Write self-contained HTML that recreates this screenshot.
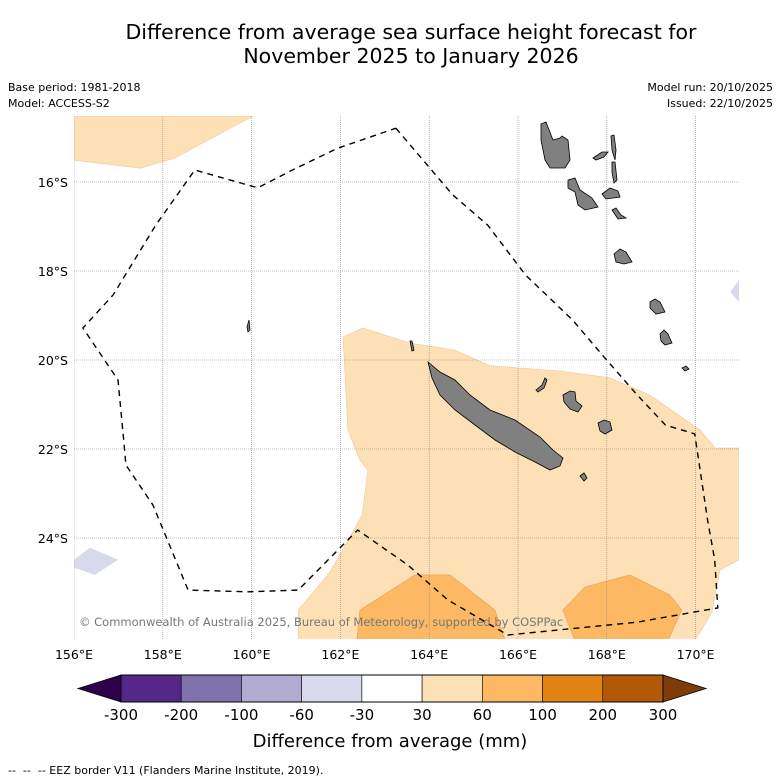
<!DOCTYPE html>
<html><head><meta charset="utf-8"><style>
html,body{margin:0;padding:0;background:#fff;}
svg{display:block;font-family:"DejaVu Sans","Liberation Sans",sans-serif;}
</style></head><body>
<svg id="chart" width="781" height="781" viewBox="0 0 781 781">
<text x="411" y="39" font-size="20.5" text-anchor="middle">Difference from average sea surface height forecast for</text>
<text x="411" y="63" font-size="20.5" text-anchor="middle">November 2025 to January 2026</text>
<text x="8" y="91" font-size="11">Base period: 1981-2018</text>
<text x="8" y="107" font-size="11">Model: ACCESS-S2</text>
<text x="773" y="91" font-size="11" text-anchor="end">Model run: 20/10/2025</text>
<text x="773" y="107" font-size="11" text-anchor="end">Issued: 22/10/2025</text>
<defs><clipPath id="mapclip"><rect x="74" y="116" width="665" height="523"/></clipPath></defs>
<g id="map" clip-path="url(#mapclip)"></g>
<g id="islands" fill="#808080" stroke="#000" stroke-width="0.8">
<polygon points="428,362 440,372 455,380 470,395 490,410 515,420 540,437 553,450 563,458 560,466 550,470 535,462 515,452 495,440 475,425 455,410 440,395 432,378"/>
<polygon points="541,124 546,122 553,140 560,138 562,136 568,140 570,160 565,168 550,168 545,160 541,140"/>
<polygon points="568,180 575,178 580,190 592,198 598,207 585,210 578,205 575,192 568,188"/>
<polygon points="611,136 614,135 616,150 615,160 612,150"/>
<polygon points="612,162 615,162 617,180 614,183 612,172"/>
<polygon points="593,158 602,152 608,152 604,157 596,160"/>
<polygon points="602,194 610,188 618,191 620,197 606,199"/>
<polygon points="612,210 616,208 621,215 626,218 618,219"/>
<polygon points="614,254 620,249 626,252 632,262 624,264 616,262"/>
<polygon points="650,302 655,299 660,302 665,312 656,314 650,308"/>
<polygon points="660,334 664,330 668,334 672,343 665,345 661,341"/>
<polygon points="682,368 686,366 689,369 685,371"/>
<polygon points="536,390 542,385 545,378 547,380 544,388 538,392"/>
<polygon points="563,395 570,391 575,392 576,401 582,406 578,412 570,409 564,402"/>
<polygon points="598,423 604,420 610,422 612,430 605,434 600,431"/>
<polygon points="580,476 584,473 587,478 584,481"/>
<polygon points="247,327 249,320 250,330 248,332"/>
<polygon points="410,341 412,341 414,350 412,351"/>
</g>
<g id="xticks"></g>
<g id="yticks"></g>
<text x="79" y="626" font-size="11.5" fill="#777">© Commonwealth of Australia 2025, Bureau of Meteorology, supported by COSPPac</text>
<g id="cbar"></g>
<text x="390" y="747" font-size="18" text-anchor="middle">Difference from average (mm)</text>
<text x="8" y="774" font-size="11">-- &#160;-- &#160;-- EEZ border V11 (Flanders Marine Institute, 2019).</text>
</svg>
<script>
// map axis data
const lonTicks = [156, 158, 160, 162, 164, 166, 168, 170];
const latTicks = [16, 18, 20, 22, 24];
// colorbar data
const cbBounds = [-300, -200, -100, -60, -30, 30, 60, 100, 200, 300];
const cbColors = ['#542788', '#8073ac', '#b2abd2', '#d8daeb', '#ffffff', '#fee0b6', '#fdb863', '#e08214', '#b35806'];
const cbUnder = '#2d004b';
const cbOver = '#7f3b08';
// contour regions (lon, lat)
const regionTopLeft = [[156,-14.52],[160.03,-14.52],[158.27,-15.46],[157.49,-15.69],[156,-15.51]];
const regionMain = [[162.06,-19.48],[162.51,-19.28],[163.57,-19.62],[164.58,-19.78],[165.37,-20.13],[166.95,-20.25],[168.07,-20.4],[168.97,-20.79],[170.1,-21.57],[170.44,-21.98],[170.98,-21.98],[170.98,-24.49],[170.55,-24.72],[170.37,-25.66],[169.99,-26.3],[161.05,-26.3],[161.05,-25.62],[161.77,-24.76],[162.49,-23.48],[162.62,-22.47],[162.44,-22.25],[162.17,-21.57]];
const regionDark1 = [[162.37,-26.3],[162.44,-25.62],[163.68,-24.83],[164.47,-24.83],[165.48,-25.62],[165.71,-26.3]];
const regionDark2 = [[167.01,-25.62],[167.51,-25.1],[168.52,-24.83],[169.42,-25.28],[169.69,-25.62],[169.38,-26.3],[167.28,-26.3]];
const regionLav1 = [[156,-24.49],[156.36,-24.22],[156.99,-24.49],[156.47,-24.83],[156,-24.67]];
const regionLav2 = [[170.78,-18.47],[170.98,-18.2],[170.98,-18.7]];
const eez = [[163.25,-14.79],[164.53,-16.29],[165.32,-16.97],[166.17,-18.09],[167.23,-19.1],[167.9,-19.89],[168.69,-20.79],[169.32,-21.46],[169.98,-21.66],[170.27,-23.6],[170.43,-24.49],[170.5,-25.57],[168.69,-25.89],[167.79,-25.98],[165.77,-26.18],[164.42,-25.39],[163.52,-24.61],[162.39,-23.82],[161.05,-25.17],[159.92,-25.21],[158.57,-25.17],[157.78,-23.26],[157.17,-22.36],[157.12,-21.8],[156.99,-20.45],[156.2,-19.28],[156.88,-18.54],[157.84,-16.97],[158.72,-15.73],[160.14,-16.13],[160.92,-15.73],[161.94,-15.24],[163.25,-14.79]];
const NS='http://www.w3.org/2000/svg';
function xs(lon){return 74+(lon-156)*44.4;}
function ys(lat){return 182+(-lat-16)*44.5;}
function el(tag,attrs,parent){const e=document.createElementNS(NS,tag);for(const k in attrs)e.setAttribute(k,attrs[k]);parent.appendChild(e);return e;}
function pts(a){return a.map(p=>xs(p[0]).toFixed(1)+','+ys(p[1]).toFixed(1)).join(' ');}
const map=document.getElementById('map');
function region(a,fill,name,stroke){
  const p=el('polygon',{points:pts(a),fill:fill,stroke:stroke||'none','stroke-width':0.6},map);
  
  
}
region(regionTopLeft,'#fee0b6','positive-anomaly-top-left','#f2c898');
region(regionMain,'#fee0b6','positive-anomaly-main','#f2c898');
region(regionDark1,'#fdb863','strong-anomaly-west','#e9a050');
region(regionDark2,'#fdb863','strong-anomaly-east','#e9a050');
region(regionLav1,'#d8daeb','negative-anomaly-west');
region(regionLav2,'#d8daeb','negative-anomaly-east');
lonTicks.forEach(l=>{
  const g=el('line',{x1:xs(l),x2:xs(l),y1:116,y2:639,stroke:'#888','stroke-width':0.6,'stroke-dasharray':'1,1'},map);
  
  
});
latTicks.forEach(l=>{
  const g=el('line',{x1:74,x2:739,y1:ys(-l),y2:ys(-l),stroke:'#888','stroke-width':0.6,'stroke-dasharray':'1,1'},map);
  
  
});
const ez=el('polyline',{points:pts(eez),fill:'none',stroke:'#000','stroke-width':1.4,'stroke-dasharray':'6,5'},map);


const xt=document.getElementById('xticks');
lonTicks.forEach(l=>{
  const t=el('text',{x:xs(l),y:659,'font-size':12.5,'text-anchor':'middle'},xt);
  t.textContent=l+'°E';
  
  
});
const yt=document.getElementById('yticks');
latTicks.forEach(l=>{
  const t=el('text',{x:68,y:ys(-l)+5,'font-size':12.5,'text-anchor':'end'},yt);
  t.textContent=l+'°S';
  
  
});
// colorbar
const cb=document.getElementById('cbar');
const cx0=121, cx1=663, cy0=675, cy1=702, n=cbColors.length, w=(cx1-cx0)/n;
const u=el('polygon',{points:`${cx0},${cy0} ${cx0},${cy1} 78,${(cy0+cy1)/2}`,fill:cbUnder,stroke:'#000','stroke-width':0.8},cb);


const o=el('polygon',{points:`${cx1},${cy0} ${cx1},${cy1} 706,${(cy0+cy1)/2}`,fill:cbOver,stroke:'#000','stroke-width':0.8},cb);


cbColors.forEach((c,i)=>{
  const r=el('rect',{x:cx0+i*w,y:cy0,width:w,height:cy1-cy0,fill:c,stroke:'#000','stroke-width':0.6},cb);
  
  
});
el('rect',{x:cx0,y:cy0,width:cx1-cx0,height:cy1-cy0,fill:'none',stroke:'#000','stroke-width':1},cb);
cbBounds.forEach((b,i)=>{
  const t=el('text',{x:cx0+i*w,y:720,'font-size':15,'text-anchor':'middle'},cb);
  t.textContent=b;
  
  
});
</script>
</body></html>
